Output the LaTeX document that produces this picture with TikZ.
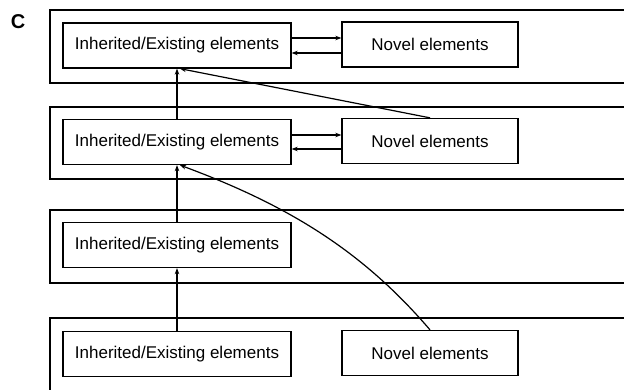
\documentclass[tikz,border=0pt]{standalone}
\usepackage{fontspec}
\setmainfont{Liberation Sans}
\usetikzlibrary{arrows.meta}
\begin{document}
\begin{tikzpicture}[x=1pt,y=-1pt,
  outer/.style={line width=1.3pt},
  elbox/.style={draw,line width=1.3pt,minimum height=45pt,inner sep=0pt,font=\fontsize{17}{20}\selectfont},
  arr/.style={line width=1.2pt,-{Stealth[length=6pt,width=4.5pt]}}]
\useasboundingbox (0,0) rectangle (624,390);
\clip (0,0) rectangle (624,390);
\node[font=\bfseries\fontsize{20}{24}\selectfont] (lab) at (18,22) {C};
% outer frames
\draw[outer] (630,10) -- (50,10) -- (50,83) -- (630,83);
\draw[outer] (630,107) -- (50,107) -- (50,179) -- (630,179);
\draw[outer] (630,210) -- (50,210) -- (50,283) -- (630,283);
\draw[outer] (630,318) -- (50,318) -- (50,395);
% inherited boxes
\node[elbox,minimum width=228pt] (i1) at (177,45.5) {Inherited/Existing elements};
\node[elbox,minimum width=228pt] (i2) at (177,142) {Inherited/Existing elements};
\node[elbox,minimum width=228pt] (i3) at (177,245) {Inherited/Existing elements};
\node[elbox,minimum width=228pt] (i4) at (177,354) {Inherited/Existing elements};
% novel boxes
\node[elbox,minimum width=176pt] (n1) at (430,44.5) {Novel elements};
\node[elbox,minimum width=176pt] (n2) at (430,141) {Novel elements};
\node[elbox,minimum width=176pt] (n4) at (430,353) {Novel elements};
% double arrows
\draw[arr] (i1.east |- 0,38) -- (n1.west |- 0,38);
\draw[arr] (n1.west |- 0,53) -- (i1.east |- 0,53);
\draw[arr] (i2.east |- 0,135) -- (n2.west |- 0,135);
\draw[arr] (n2.west |- 0,149) -- (i2.east |- 0,149);
% vertical arrows
\draw[arr] (i2.north) -- (i1.south);
\draw[arr] (i3.north) -- (i2.south);
\draw[arr] (i4.north) -- (i3.south);
% diagonal and curve
\draw[arr] (n2.north) -- ([xshift=3pt]i1.south);
\draw[arr] (n4.north) .. controls (365,254) and (293,207) .. ([xshift=3pt]i2.south);
\end{tikzpicture}
\end{document}
